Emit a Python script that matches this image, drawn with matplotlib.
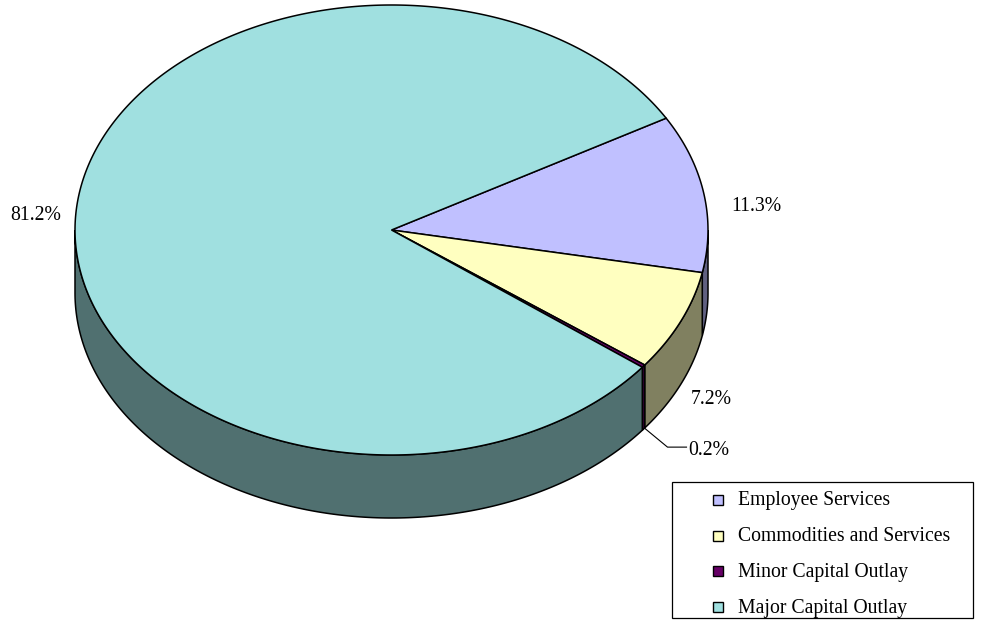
import numpy as np
import matplotlib.pyplot as plt
from matplotlib.patches import Polygon, Rectangle

plt.rcParams['font.family'] = ['Liberation Serif', 'DejaVu Serif']

categories = ["Employee Services", "Commodities and Services",
              "Minor Capital Outlay", "Major Capital Outlay"]
shares = [11.3, 7.2, 0.2, 81.2]
top_colors = ["#C0C0FF", "#FFFFC0", "#660066", "#A0E0E0"]
side_colors = ["#606080", "#808060", "#330033", "#507070"]

# pie geometry in pixel units
cx, cy = 391.5, 230.0
rx, ry = 316.5, 225.0
depth = 63.0
start = 29.8  # degrees, slices run clockwise

fig = plt.figure(figsize=(9.89, 6.26), dpi=100)
ax = fig.add_axes([0, 0, 1, 1])
ax.set_xlim(0, 989)
ax.set_ylim(626, 0)
ax.axis("off")


def rim(t, dz=0.0):
    t = np.radians(t)
    return cx + rx * np.cos(t), cy - ry * np.sin(t) + dz


spans = np.array(shares) / sum(shares) * 360.0
bounds = start - np.concatenate([[0], np.cumsum(spans)])

# side walls: only the front half (-180..0 degrees) shows
for i in range(len(shares)):
    a, b = bounds[i], bounds[i + 1]
    lo, hi = max(b, -180.0), min(a, 0.0)
    if lo >= hi:
        continue
    t = np.linspace(hi, lo, 200)
    xt, yt = rim(t)
    xb, yb = rim(t[::-1], depth)
    pts = np.column_stack([np.concatenate([xt, xb]), np.concatenate([yt, yb])])
    ax.add_patch(Polygon(pts, closed=True, facecolor=side_colors[i],
                         edgecolor="black", lw=1.1, zorder=1))

# top faces
for i in range(len(shares)):
    a, b = bounds[i], bounds[i + 1]
    t = np.linspace(a, b, max(int(abs(a - b) * 2), 4))
    xt, yt = rim(t)
    pts = np.column_stack([np.concatenate([[cx], xt]), np.concatenate([[cy], yt])])
    ax.add_patch(Polygon(pts, closed=True, facecolor=top_colors[i],
                         edgecolor="black", lw=1.1, zorder=2))

# percentage labels, offset from the rim point at each slice's middle
label_offsets = [(28, 13, "left"), (10, 78, "left"), (45, 84, "left"), (-15, 1, "right")]
mids = (bounds[:-1] + bounds[1:]) / 2
for i, v in enumerate(shares):
    px, py = rim(mids[i])
    dx, dy, ha = label_offsets[i]
    if categories[i] == "Minor Capital Outlay":
        bx, by = rim(mids[i], depth)
        ax.plot([bx + 1, bx + 24, bx + 43], [by - 1, py + 81, py + 81],
                color="black", lw=0.8, zorder=3)
    ax.text(px + dx, py + dy, f"{v:.1f}%", ha=ha, va="center",
            fontsize=14.2, color="black", zorder=4)

# legend box
ax.add_patch(Rectangle((672, 482), 301, 136, facecolor="white",
                       edgecolor="black", lw=0.9, zorder=5))
for i, name in enumerate(categories):
    y = 500 + i * 35.7
    ax.add_patch(Rectangle((713, y - 5), 10, 10, facecolor=top_colors[i],
                           edgecolor="black", lw=1.0, zorder=6))
    ax.text(738, y + 1, name, ha="left", va="center", fontsize=14.2,
            color="black", zorder=6)

fig.savefig("out.png", dpi=100)
